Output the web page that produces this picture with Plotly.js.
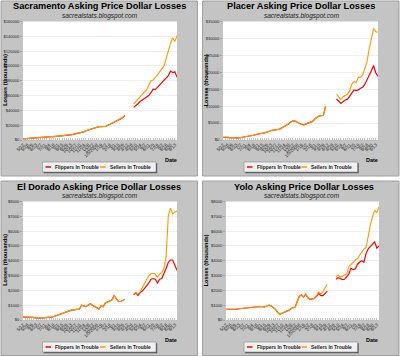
<!DOCTYPE html>
<html><head><meta charset="utf-8">
<script src="https://cdn.plot.ly/plotly-3.0.1.min.js"></script>
<style>html,body{margin:0;padding:0;background:#fff}#chart{width:400px;height:356px}</style>
</head><body><div id="chart"></div>
<script>
// ---- data (weekly) ----
const weeks = ["5/12","5/19","5/26","6/2","6/9","6/16","6/23","6/30","7/7","7/14","7/21","7/28","8/4","8/11","8/18","8/25","9/1","9/8","9/15","9/22","9/29","10/6","10/13","10/20","10/27","11/3","11/10","11/17","11/24","12/1","12/8","12/15","12/22","12/29","1/5/2008","1/12","1/19","1/26","2/2","2/9","2/16","2/23","3/1","3/8","3/15","3/22","3/29","4/5","4/12","4/19","4/26","5/3","5/10","5/17","5/24","5/31","6/7","6/14","6/21","6/28","7/5","7/12","7/19","7/26","8/2","8/9","8/16","8/23","8/30","9/6","9/13","9/20"];

const seriesNames = ["Flippers In Trouble", "Sellers In Trouble"];

const sacFlippers = [1500,1800,2000,2200,2500,2800,3000,3200,3300,3500,3800,4000,4200,4500,4500,4700,4800,5000,5500,6000,6300,6500,7000,7500,8000,8500,9000,10000,11000,12500,13500,14500,15500,16500,17500,18000,18000,17800,18200,19500,21000,22500,23500,24500,26000,28500,30500,33000,null,null,null,44000,46000,49000,52000,54000,55000,57000,60000,64000,68500,68000,71000,74000,77000,80000,83000,87000,93000,91000,92000,85000];
const sacSellers = [1500,1800,2000,2200,2500,2800,3000,3200,3300,3500,3800,4000,4200,4500,4500,4700,4800,5000,5500,6000,6300,6500,7000,7500,8000,8500,9000,10000,11000,12500,13500,14500,15500,16500,17500,18000,18000,17800,18200,19500,21000,22500,23500,24500,26000,28500,30500,33000,null,null,null,48700,52000,56000,59000,62000,65000,68000,74000,80000,81000,84000,88000,92000,96000,100000,110000,122000,130000,138000,133000,141000];

const plaFlippers = [800,900,800,700,600,500,600,600,700,700,800,900,1000,1200,1400,1600,1800,1900,2000,2100,2200,2500,2800,3000,3000,3100,3200,3600,3900,4200,4700,5300,5600,5600,5200,4800,4600,4500,4700,5000,5200,5500,6200,6800,7100,7200,7300,10000,null,null,null,null,12100,11500,10800,11300,11800,12000,13000,14000,14800,14600,14800,15300,15600,16500,17700,19000,20500,22000,19800,18800];
const plaSellers = [800,900,800,700,600,500,600,600,700,700,800,900,1000,1200,1400,1600,1800,1900,2000,2100,2200,2500,2800,3000,3000,3100,3200,3600,3900,4200,4700,5300,5600,5600,5200,4800,4600,4500,4700,5000,5200,5500,6200,6800,7100,7200,7300,10000,null,null,null,null,13500,12800,12000,12800,13200,13500,14500,16500,17300,17000,18500,18500,19200,21000,23200,27000,30500,33000,32000,31800];

const eldFlippers = [200,200,220,200,200,180,120,100,120,150,150,180,150,200,220,280,350,400,420,480,540,600,650,700,700,720,730,1000,950,900,1000,1100,1000,900,800,750,950,900,1150,1200,1300,1350,1650,1400,1250,1250,1350,1400,null,null,null,1700,1850,1650,1850,1950,2100,2300,2500,2750,2800,2750,2500,2750,2800,3100,3500,3900,4050,4050,3650,3350];
const eldSellers = [200,200,220,200,200,180,120,100,120,150,150,180,150,200,220,280,350,400,420,480,540,600,650,700,700,720,730,1000,950,900,1000,1100,1000,900,800,750,950,900,1150,1200,1300,1350,1650,1400,1250,1250,1350,1400,null,null,null,1750,1850,1750,1900,2200,2500,2750,3000,3100,3150,3100,2900,3100,3200,3500,4300,7050,7550,7150,7300,7350];

const yolFlippers = [720,720,700,700,720,740,760,780,790,800,820,830,850,880,900,900,910,900,880,950,1010,950,850,720,500,380,450,500,560,650,750,830,850,1250,1600,1690,1550,1740,1500,1400,1450,1450,1600,1800,1650,1650,1800,1950,null,null,null,2750,2860,2800,2730,2750,2900,3100,3500,3400,3450,3750,3900,4000,3900,4500,4800,4950,5150,5280,4850,5000];
const yolSellers = [720,720,700,700,720,740,760,780,790,800,820,830,850,880,900,900,910,900,880,950,1010,950,850,720,500,380,450,500,560,650,750,830,850,1250,1600,1690,1550,1740,1500,1400,1450,1450,1650,1900,1750,1900,2200,2400,null,null,null,2900,3040,2900,2950,3000,3100,3600,3750,3950,4050,4150,4400,4600,4800,4900,5700,6400,7000,7400,7250,7650];

const titles = ["Sacramento Asking Price Dollar Losses","Placer Asking Price Dollar Losses","El Dorado Asking Price Dollar Losses","Yolo Asking Price Dollar Losses"];
const subtitle = "sacrealstats.blogspot.com";
const yTitle = "Losses (thousands)";
const xTitle = "Date";

// ---- layout config ----
const W = 400, H = 356;
const panels = [
  {fl: sacFlippers, se: sacSellers, ymax: 160000, dtick: 20000, ox: 0,     oy: 0,   box: [23, 177, 21.5, 140], tcx: 99},
  {fl: plaFlippers, se: plaSellers, ymax: 35000,  dtick: 5000,  ox: 201.5, oy: 0,   box: [223, 378, 21.5, 140], tcx: 301},
  {fl: eldFlippers, se: eldSellers, ymax: 8000,   dtick: 1000,  ox: 0,     oy: 180, box: [23, 177, 201.5, 320], tcx: 99},
  {fl: yolFlippers, se: yolSellers, ymax: 8000,   dtick: 1000,  ox: 201.5, oy: 180, box: [226, 379, 201.5, 320], tcx: 304}
];
const RED = '#ff0000', ORANGE = '#ff9900';
const FONT = 'Liberation Sans, Arial, sans-serif';
const px = x => x / W, py = y => 1 - y / H;

const traces = [], shapes = [], annotations = [];
const layout = {
  width: W, height: H, margin: {l: 0, r: 0, t: 0, b: 0},
  paper_bgcolor: '#ffffff', plot_bgcolor: 'rgba(0,0,0,0)',
  font: {family: FONT, color: '#000'}, showlegend: false,
  shapes: shapes, annotations: annotations
};

const ticktext = weeks.map((w, i) => i % 2 === 0 ? w : '');

panels.forEach((p, k) => {
  const s = k === 0 ? '' : String(k + 1);
  const [bx0, bx1, by0, by1] = p.box;
  shapes.push({type: 'rect', xref: 'paper', yref: 'paper', layer: 'below',
    x0: px(1 + p.ox), x1: px(197.5 + p.ox), y0: py(1 + p.oy), y1: py(Math.min(176 + p.oy, 355.5)),
    fillcolor: '#c4c4c4', line: {color: '#a0a0a0', width: 1}});
  shapes.push({type: 'rect', xref: 'paper', yref: 'paper', layer: 'below',
    x0: px(bx0), x1: px(bx1), y0: py(by0), y1: py(by1), fillcolor: '#ffffff', line: {width: 0}});

  layout['xaxis' + s] = {
    domain: [px(bx0), px(bx1)], anchor: 'y' + s, type: 'category', range: [0, weeks.length - 1],
    tickmode: 'array', tickvals: weeks, ticktext: ticktext, tickangle: -45,
    tickfont: {size: 4.5, color: '#222', family: FONT},
    ticks: 'inside', ticklen: 2.5, tickwidth: 0.6, tickcolor: '#999',
    showgrid: false, showline: true, linecolor: '#bbbbbb', linewidth: 0.6, zeroline: false,
    fixedrange: true, automargin: false
  };
  layout['yaxis' + s] = {
    domain: [py(by1), py(by0)], anchor: 'x' + s, range: [0, p.ymax], tick0: 0, dtick: p.dtick,
    tickprefix: '$', tickformat: 'd', tickfont: {size: 4, color: '#222', family: FONT},
    ticks: 'outside', ticklen: 2, tickwidth: 0.6, tickcolor: '#888',
    showgrid: true, gridcolor: '#e2e2e2', gridwidth: 0.6, zeroline: false, showline: false,
    fixedrange: true, automargin: false
  };

  traces.push({x: weeks, y: p.fl, xaxis: 'x' + s, yaxis: 'y' + s, type: 'scatter', mode: 'lines',
    name: seriesNames[0], connectgaps: false, line: {color: RED, width: 1.2}, hoverinfo: 'skip'});
  traces.push({x: weeks, y: p.se, xaxis: 'x' + s, yaxis: 'y' + s, type: 'scatter', mode: 'lines',
    name: seriesNames[1], connectgaps: false, line: {color: ORANGE, width: 1.1}, hoverinfo: 'skip'});

  const ann = (x, y, text, size, extra) => annotations.push(Object.assign({
    xref: 'paper', yref: 'paper', x: px(x), y: py(y), text: text, showarrow: false,
    xanchor: 'center', yanchor: 'middle', font: {size: size, family: FONT, color: '#000'}
  }, extra || {}));

  ann(p.tcx, 6.5 + p.oy, '<b>' + titles[k] + '</b>', 9.2);
  ann(100 + p.ox, 15.7 + p.oy, '<i>' + subtitle + '</i>', 6.5, {font: {size: 6.5, family: FONT, color: '#222'}});
  ann(4.8 + p.ox, 80 + p.oy, '<b>' + yTitle + '</b>', 5.5, {textangle: -90});
  ann(170.5 + p.ox, 160 + p.oy, '<b>' + xTitle + '</b>', 5.5);

  const lx0 = 42.5 + p.ox, lx1 = 156 + p.ox, ly0 = 162 + p.oy, ly1 = 172 + p.oy, lyc = (ly0 + ly1) / 2;
  shapes.push({type: 'rect', xref: 'paper', yref: 'paper', layer: 'above',
    x0: px(lx0 + 1.2), x1: px(lx1 + 1.2), y0: py(ly0 + 1.2), y1: py(ly1 + 1.2), fillcolor: '#555555', line: {width: 0}});
  shapes.push({type: 'rect', xref: 'paper', yref: 'paper', layer: 'above',
    x0: px(lx0), x1: px(lx1), y0: py(ly0), y1: py(ly1), fillcolor: '#f0f0f0', line: {color: '#888888', width: 0.6}});
  shapes.push({type: 'line', xref: 'paper', yref: 'paper', layer: 'above',
    x0: px(lx0 + 3), x1: px(lx0 + 8.5), y0: py(lyc), y1: py(lyc), line: {color: RED, width: 1.5}});
  shapes.push({type: 'line', xref: 'paper', yref: 'paper', layer: 'above',
    x0: px(lx0 + 57.5), x1: px(lx0 + 63), y0: py(lyc), y1: py(lyc), line: {color: ORANGE, width: 1.5}});
  ann(lx0 + 10.5, lyc, '<b>' + seriesNames[0] + '</b>', 4.9, {xanchor: 'left', font: {size: 4.9, family: FONT, color: '#222'}});
  ann(lx0 + 65, lyc, '<b>' + seriesNames[1] + '</b>', 4.9, {xanchor: 'left', font: {size: 4.9, family: FONT, color: '#222'}});
});

Plotly.newPlot('chart', traces, layout, {staticPlot: true, displayModeBar: false});
</script>
</body></html>
